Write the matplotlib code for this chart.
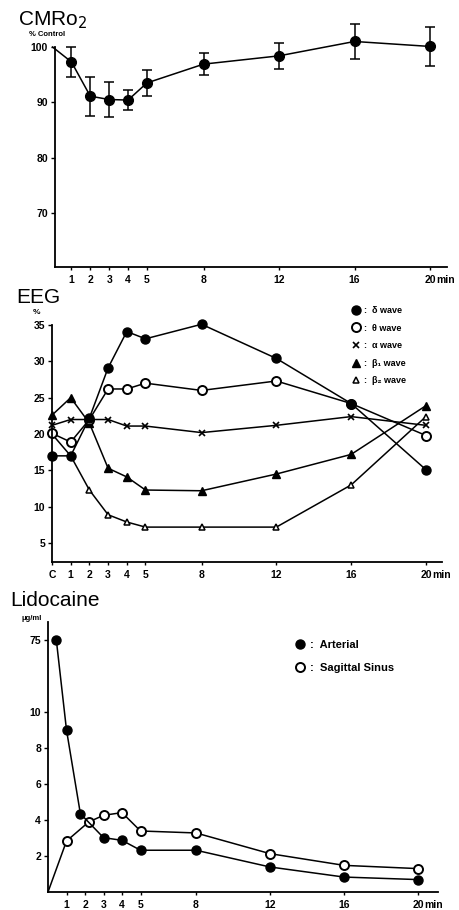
import matplotlib
matplotlib.use("Agg")
import matplotlib.pyplot as plt
from matplotlib.lines import Line2D
import numpy as np

plt.rcParams["font.family"] = ["Liberation Sans", "DejaVu Sans"]

# CMRO2, % of control (time 0 = control)
cmro_t = [0, 1, 2, 3, 4, 5, 8, 12, 16, 20]
cmro_val = [100, 97.3, 91.1, 90.5, 90.4, 93.5, 96.9, 98.4, 101.0, 100.1]
cmro_err = [0, 2.7, 3.5, 3.2, 1.8, 2.3, 2.0, 2.3, 3.2, 3.6]
time_ticks = [1, 2, 3, 4, 5, 8, 12, 16, 20]
time_labels = ["1", "2", "3", "4", "5", "8", "12", "16", "20"]

# EEG, % power per band (0 = control "C")
eeg_t = [0, 1, 2, 3, 4, 5, 8, 12, 16, 20]
delta = [17.0, 17.0, 22.2, 29.1, 34.1, 33.1, 35.1, 30.4, 24.2, 15.1]
theta = [20.1, 18.9, 22.0, 26.2, 26.2, 27.0, 26.0, 27.3, 24.2, 19.8]
alpha = [21.2, 22.0, 22.0, 22.0, 21.1, 21.1, 20.2, 21.2, 22.4, 21.2]
beta1 = [22.6, 25.0, 21.5, 15.3, 14.1, 12.3, 12.2, 14.5, 17.2, 23.9]
beta2 = [20.0, 17.0, 12.3, 8.9, 7.9, 7.2, 7.2, 7.2, 13.0, 22.4]
eeg_ticks = [0, 1, 2, 3, 4, 5, 8, 12, 16, 20]
eeg_tick_labels = ["C", "1", "2", "3", "4", "5", "8", "12", "16", "20"]

# Lidocaine, ug/ml
art_t = [0.45, 1, 1.75, 3, 4, 5, 8, 12, 16, 20]
art_val = [75, 9.0, 4.35, 3.02, 2.87, 2.32, 2.32, 1.39, 0.83, 0.69]
sin_t = [0, 1, 2.2, 3, 4, 5, 8, 12, 16, 20]
sin_val = [0, 2.83, 3.89, 4.26, 4.41, 3.39, 3.28, 2.13, 1.48, 1.30]
lido_ticks = [2, 4, 6, 8, 10, 75]

W, H = 460, 910
fig = plt.figure(figsize=(W / 100, H / 100), dpi=100)
fig.patch.set_facecolor("white")


def px_axes(l, t, r, b):
    return fig.add_axes([l / W, 1 - b / H, (r - l) / W, (b - t) / H])


def style(ax):
    for s in ["top", "right"]:
        ax.spines[s].set_visible(False)
    for s in ["left", "bottom"]:
        ax.spines[s].set_linewidth(1.3)
    ax.tick_params(axis="both", direction="out", length=3, width=1.0,
                   labelsize=7.5, pad=2)
    ax.tick_params(axis="x", length=2, pad=4)
    for lab in ax.get_xticklabels() + ax.get_yticklabels():
        lab.set_fontweight("bold")


def add_min(ax):
    # "min" sits right after the "20" tick label
    ax.annotate("min", xy=(20, 0), xycoords=("data", "axes fraction"),
                xytext=(4.3, -6), textcoords="offset points", ha="left",
                va="top", fontsize=7.5, fontweight="bold")


# ---- CMRO2 ----
ax1 = px_axes(55, 47, 447, 267)
ax1.plot(cmro_t, cmro_val, color="black", lw=1.1, clip_on=False)
ax1.errorbar(cmro_t[1:], cmro_val[1:], yerr=cmro_err[1:], fmt="o",
             color="black", ms=7, elinewidth=1.1, capsize=3.5, capthick=1.1,
             clip_on=False)
ax1.set_xlim(0.13, 20.9)
ax1.set_ylim(60.2, 100)
ax1.set_yticks([70, 80, 90, 100])
ax1.set_xticks(time_ticks)
ax1.set_xticklabels(time_labels)
style(ax1)
add_min(ax1)
fig.text(18 / W, 1 - 25 / H, "CMRo$_2$", fontsize=15, va="baseline")
fig.text(29 / W, 1 - 35 / H, "% Control", fontsize=5.5, fontweight="bold",
         va="center")

# ---- EEG ----
ax2 = px_axes(52, 325, 442, 562)
kw = dict(color="black", lw=1.1, clip_on=False)
ax2.plot(eeg_t, beta2, marker="^", ms=5, mfc="white", mec="black", mew=1.1, **kw)
ax2.plot(eeg_t, beta1, marker="^", ms=5.5, mfc="black", **kw)
ax2.plot(eeg_t, alpha, marker="x", ms=4, mew=1.2, **kw)
ax2.plot(eeg_t, theta, marker="o", ms=6.5, mfc="white", mec="black", mew=1.4, **kw)
ax2.plot(eeg_t, delta, marker="o", ms=6.5, mfc="black", **kw)
ax2.set_xlim(0, 20.86)
ax2.set_ylim(2.4, 35)
ax2.set_yticks([5, 10, 15, 20, 25, 30, 35])
ax2.set_xticks(eeg_ticks)
ax2.set_xticklabels(eeg_tick_labels)
style(ax2)
add_min(ax2)
fig.text(16 / W, 1 - 303 / H, "EEG", fontsize=15, va="baseline")
fig.text(33 / W, 1 - 312 / H, "%", fontsize=6, fontweight="bold", va="center")

eeg_handles = [
    Line2D([], [], ls="none", marker="o", ms=6.5, color="black"),
    Line2D([], [], ls="none", marker="o", ms=6.5, mfc="white", mec="black", mew=1.4),
    Line2D([], [], ls="none", marker="x", ms=4, mew=1.2, color="black"),
    Line2D([], [], ls="none", marker="^", ms=5.5, color="black"),
    Line2D([], [], ls="none", marker="^", ms=5, mfc="white", mec="black", mew=1.1),
]
eeg_labels = [":  δ wave", ":  θ wave", ":  α wave", ":  β₁ wave", ":  β₂ wave"]
fig.legend(eeg_handles, eeg_labels, loc="upper left",
           bbox_to_anchor=(351 / W, 1 - 306 / H), frameon=False,
           prop={"size": 6.5, "weight": "bold"}, handlelength=1.0,
           handletextpad=0.4, labelspacing=0.95, borderpad=0, borderaxespad=0)

# ---- Lidocaine (broken axis: 10 -> 75 compressed) ----
k = 4 / 65


def fwd(y):
    y = np.asarray(y, dtype=float)
    return np.where(y <= 10, y, 10 + (y - 10) * k)


def inv(y):
    y = np.asarray(y, dtype=float)
    return np.where(y <= 10, y, 10 + (y - 10) / k)


ax3 = px_axes(48, 622, 438, 892)
ax3.set_yscale("function", functions=(fwd, inv))
ax3.plot(sin_t, sin_val, color="black", lw=1.1, clip_on=False)
ax3.plot(sin_t[1:], sin_val[1:], ls="none", marker="o", ms=6.5, mfc="white",
         mec="black", mew=1.4, clip_on=False)
ax3.plot(art_t, art_val, color="black", lw=1.1, marker="o", ms=6.5,
         mfc="black", clip_on=False)
ax3.set_xlim(0, 21.08)
ax3.set_ylim(0, float(inv(15)))
ax3.set_yticks(lido_ticks)
ax3.set_yticklabels([str(v) for v in lido_ticks])
ax3.set_xticks(time_ticks)
ax3.set_xticklabels(time_labels)
ax3.minorticks_off()
style(ax3)
add_min(ax3)
fig.text(10 / W, 1 - 606 / H, "Lidocaine", fontsize=15, va="baseline")
fig.text(22 / W, 1 - 618 / H, "μg/ml", fontsize=5.5, fontweight="bold",
         va="center")

lido_handles = [
    Line2D([], [], ls="none", marker="o", ms=6.5, color="black"),
    Line2D([], [], ls="none", marker="o", ms=6.5, mfc="white", mec="black", mew=1.4),
]
fig.legend(lido_handles, [":  Arterial", ":  Sagittal Sinus"], loc="upper left",
           bbox_to_anchor=(294 / W, 1 - 640 / H), frameon=False,
           prop={"size": 8, "weight": "bold"}, handlelength=1.0,
           handletextpad=0.4, labelspacing=1.2, borderpad=0, borderaxespad=0)

fig.savefig("out.png", dpi=100)
